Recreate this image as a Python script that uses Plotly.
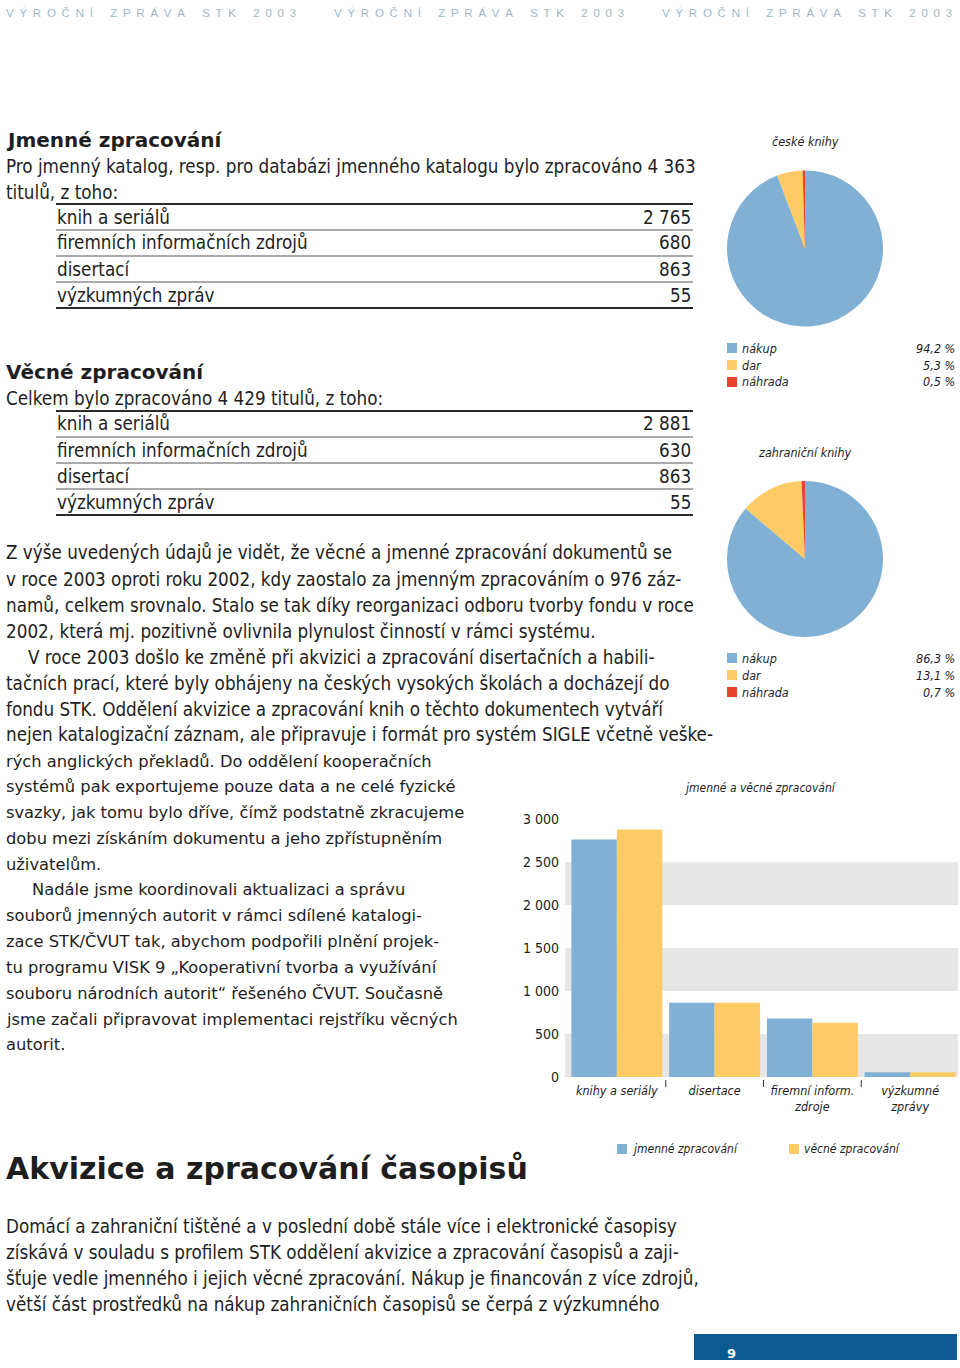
import plotly.graph_objects as go

# page is 960 x 1368 px, everything placed in pixel terms
W, H = 960, 1368

def px(x):
    return x / W

def py(y):
    return 1 - y / H

# ---- data ----
bar_categories = ["knihy a seriály", "disertace", "firemní inform.<br>zdroje", "výzkumné<br>zprávy"]
jmenne = [2765, 863, 680, 55]
vecne = [2881, 863, 630, 55]
bar_ticks = [0, 500, 1000, 1500, 2000, 2500, 3000]
bar_tick_labels = ["0", "500", "1 000", "1 500", "2 000", "2 500", "3 000"]

pie_labels = ["nákup", "dar", "náhrada"]
ceske_knihy = [94.2, 5.3, 0.5]
zahranicni_knihy = [86.3, 13.1, 0.7]
ceske_pct = ["94,2 %", "5,3 %", "0,5 %"]
zahranicni_pct = ["86,3 %", "13,1 %", "0,7 %"]

table_labels = ["knih a seriálů", "firemních informačních zdrojů", "disertací", "výzkumných zpráv"]
table_jmenne = ["2 765", "680", "863", "55"]
table_vecne = ["2 881", "630", "863", "55"]

BLUE = "#80b0d3"
YELLOW = "#fdcb66"
RED = "#e8432b"
BAND = "#e6e6e6"
INK = "#1e1e1e"

NARROW = "Liberation Sans Narrow, DejaVu Sans Condensed, Roboto, sans-serif"
WIDE = "DejaVu Sans, Verdana, sans-serif"
HEAVY = "DejaVu Sans, sans-serif"
BODY = 18.7

fig = go.Figure()

# ---- pies ----
fig.add_trace(go.Pie(labels=pie_labels, values=ceske_knihy, sort=False, direction="clockwise",
                     marker=dict(colors=[BLUE, YELLOW, RED], line=dict(width=0)),
                     textinfo="none", showlegend=False,
                     domain=dict(x=[px(727), px(883)], y=[py(327), py(170)])))
fig.add_trace(go.Pie(labels=pie_labels, values=zahranicni_knihy, sort=False, direction="clockwise",
                     marker=dict(colors=[BLUE, YELLOW, RED], line=dict(width=0)),
                     textinfo="none", showlegend=False,
                     domain=dict(x=[px(727), px(883)], y=[py(637), py(481)])))

# ---- grouped bars ----
fig.add_trace(go.Bar(x=bar_categories, y=jmenne, name="jmenné zpracování",
                     marker=dict(color=BLUE, line=dict(width=0)), showlegend=False))
fig.add_trace(go.Bar(x=bar_categories, y=vecne, name="věcné zpracování",
                     marker=dict(color=YELLOW, line=dict(width=0)), showlegend=False))

ann = []
shapes = []

def text(x, y, s, size=BODY, family=NARROW, anchor="left", color=INK, bold=False, italic=False):
    ann.append(dict(x=px(x), y=py(y), xref="paper", yref="paper", text=s, showarrow=False,
                    xanchor=anchor, yanchor="middle", borderpad=0,
                    font=dict(size=size, family=family, color=color,
                              weight="bold" if bold else "normal",
                              style="italic" if italic else "normal")))

def hline(y, x0, x1, w, color="#2a2a2a"):
    shapes.append(dict(type="line", xref="paper", yref="paper", x0=px(x0), x1=px(x1),
                       y0=py(y), y1=py(y), line=dict(color=color, width=w)))

def square(x, y, color, s=10):
    shapes.append(dict(type="rect", xref="paper", yref="paper", x0=px(x), x1=px(x + s),
                       y0=py(y + s / 2), y1=py(y - s / 2), fillcolor=color, line=dict(width=0)))

# header
hdr = "V\u2002Ý\u2002R\u2002O\u2002Č\u2002N\u2002Í\u2003\u2002Z\u2002P\u2002R\u2002Á\u2002V\u2002A\u2003\u2002S\u2002T\u2002K\u2003\u20022\u20020\u20020\u20023"
for hx in [5, 333, 661]:
    text(hx, 13, hdr, size=11.5, family="Liberation Sans, Arial, sans-serif", color="#9fb8c9")

# Jmenné zpracování
text(5, 140, "Jmenné zpracování", size=20, family=HEAVY, bold=True)
text(5, 166, "Pro jmenný katalog, resp. pro databázi jmenného katalogu bylo zpracováno 4 363")
text(5, 192, "titulů, z toho:")
for i, (lab, val) in enumerate(zip(table_labels, table_jmenne)):
    text(56, 217 + 26 * i, lab)
    text(692, 217 + 26 * i, val, anchor="right")
hline(204, 56, 693, 2)
for yy in [230, 256, 282]:
    hline(yy, 56, 693, 1, "#555555")
hline(308, 56, 693, 2)

# Věcné zpracování
text(5, 372, "Věcné zpracování", size=20, family=HEAVY, bold=True)
text(5, 398, "Celkem bylo zpracováno 4 429 titulů, z toho:")
for i, (lab, val) in enumerate(zip(table_labels, table_vecne)):
    text(56, 424 + 26 * i, lab)
    text(692, 424 + 26 * i, val, anchor="right")
hline(411, 56, 693, 2)
for yy in [437, 463, 489]:
    hline(yy, 56, 693, 1, "#555555")
hline(515, 56, 693, 2)

# running text
wide_lines = [
    (5, 553, "Z výše uvedených údajů je vidět, že věcné a jmenné zpracování dokumentů se"),
    (5, 579, "v roce 2003 oproti roku 2002, kdy zaostalo za jmenným zpracováním o 976 záz-"),
    (5, 605, "namů, celkem srovnalo. Stalo se tak díky reorganizaci odboru tvorby fondu v roce"),
    (5, 631, "2002, která mj. pozitivně ovlivnila plynulost činností v rámci systému."),
    (27, 657, "V roce 2003 došlo ke změně při akvizici a zpracování disertačních a habili-"),
    (5, 683, "tačních prací, které byly obhájeny na českých vysokých školách a docházejí do"),
    (5, 709, "fondu STK. Oddělení akvizice a zpracování knih o těchto dokumentech vytváří"),
    (5, 735, "nejen katalogizační záznam, ale připravuje i formát pro systém SIGLE včetně veške-"),
]
for x, y, s in wide_lines:
    text(x, y, s)

narrow_lines = [
    (5, 761, "rých anglických překladů. Do oddělení kooperačních"),
    (5, 786, "systémů pak exportujeme pouze data a ne celé fyzické"),
    (5, 812, "svazky, jak tomu bylo dříve, čímž podstatně zkracujeme"),
    (5, 838, "dobu mezi získáním dokumentu a jeho zpřístupněním"),
    (5, 864, "uživatelům."),
    (31, 889, "Nadále jsme koordinovali aktualizaci a správu"),
    (5, 915, "souborů jmenných autorit v rámci sdílené katalogi-"),
    (5, 941, "zace STK/ČVUT tak, abychom podpořili plnění projek-"),
    (5, 967, "tu programu VISK 9 „Kooperativní tvorba a využívání"),
    (5, 993, "souboru národních autorit“ řešeného ČVUT. Současně"),
    (5, 1019, "jsme začali připravovat implementaci rejstříku věcných"),
    (5, 1044, "autorit."),
]
for x, y, s in narrow_lines:
    text(x, y, s, size=16.3, family=WIDE)

# Akvizice
text(5, 1168, "Akvizice a zpracování časopisů", size=30, family=HEAVY, bold=True)
last_lines = [
    "Domácí a zahraniční tištěné a v poslední době stále více i elektronické časopisy",
    "získává v souladu s profilem STK oddělení akvizice a zpracování časopisů a zaji-",
    "šťuje vedle jmenného i jejich věcné zpracování. Nákup je financován z více zdrojů,",
    "větší část prostředků na nákup zahraničních časopisů se čerpá z výzkumného",
]
for i, s in enumerate(last_lines):
    text(5, 1226 + 26 * i, s)

# pie labels and legends
text(805, 142, "české knihy", size=12.5, anchor="center", italic=True)
text(805, 452, "zahraniční knihy", size=12.5, anchor="center", italic=True)
for base, pcts in [(348, ceske_pct), (658, zahranicni_pct)]:
    for i, (lab, col, pct) in enumerate(zip(pie_labels, [BLUE, YELLOW, RED], pcts)):
        yy = base + 17 * i
        square(727, yy, col)
        text(741, yy, lab, size=12.5, italic=True)
        text(956, yy, pct, size=12.5, anchor="right", italic=True)

# bar chart decorations
text(760, 788, "jmenné a věcné zpracování", size=12, anchor="center", italic=True)
for lo, hi in [(0, 500), (1000, 1500), (2000, 2500)]:
    shapes.append(dict(type="rect", xref="paper", yref="y", x0=px(565), x1=px(958),
                       y0=lo, y1=hi, fillcolor=BAND, line=dict(width=0), layer="below"))
for b in [0.5, 1.5, 2.5]:
    shapes.append(dict(type="line", xref="x", yref="paper", x0=b, x1=b,
                       y0=py(1087), y1=py(1080), line=dict(color="#333333", width=1)))
square(617, 1149, BLUE)
text(631, 1149, "jmenné zpracování", size=12, italic=True)
square(789, 1149, YELLOW)
text(803, 1149, "věcné zpracování", size=12, italic=True)

# footer
shapes.append(dict(type="rect", xref="paper", yref="paper", x0=px(694), x1=px(957),
                   y0=py(1360), y1=py(1334), fillcolor="#0b5a92", line=dict(width=0)))
text(731, 1353, "9", size=13, family="DejaVu Sans, sans-serif", color="white", anchor="center", bold=True)

fig.update_layout(
    width=W, height=H,
    margin=dict(l=0, r=0, t=0, b=0, pad=0, autoexpand=False),
    paper_bgcolor="white", plot_bgcolor="rgba(0,0,0,0)",
    barmode="group", bargap=0.07, bargroupgap=0,
    xaxis=dict(domain=[px(568), px(959)], type="category", showgrid=False, zeroline=False,
               showline=False, ticks="", ticklabelstandoff=4, automargin=False,
               tickfont=dict(size=12.5, family=NARROW, color=INK, style="italic")),
    yaxis=dict(domain=[py(1077), py(802)], range=[0, 3200], showgrid=False, zeroline=False,
               showline=False, ticks="", tickvals=bar_ticks, ticktext=bar_tick_labels,
               ticklabelstandoff=8, automargin=False,
               tickfont=dict(size=14, family=NARROW, color=INK)),
    annotations=ann, shapes=shapes,
)

# the page body has a default margin and some slack below the plot; pin it to the figure size
fix_page = ("document.body.style.margin='0px';"
            "document.body.style.height='1368px';"
            "document.body.style.overflow='hidden';"
            "document.documentElement.style.overflow='hidden';")
fig.write_html("out.html", post_script=fix_page, config={"displayModeBar": False})
